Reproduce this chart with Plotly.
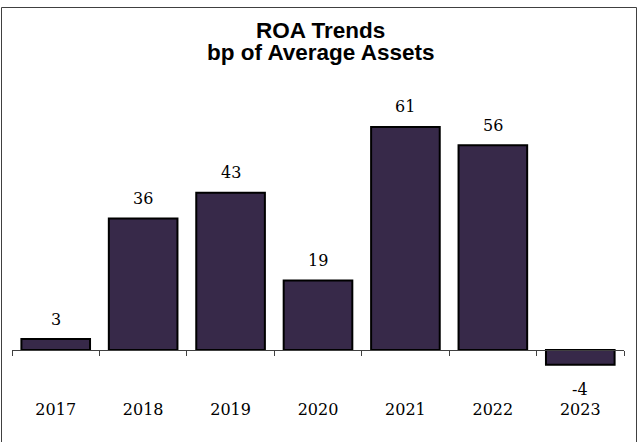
import plotly.graph_objects as go

# Return on assets, basis points of average assets
years = ["2017", "2018", "2019", "2020", "2021", "2022", "2023"]
roa_bp = [3, 36, 43, 19, 61, 56, -4]

title_line1 = "ROA Trends"
title_line2 = "bp of Average Assets"

# page size and plot-area box (pixels from the top-left corner)
W, H = 641, 442
box_left, box_right, box_top, box_bottom = 12, 624, 94, 394
y_range = [-12, 70]

# chart frame edges in page pixels; the bottom edge runs off the page
frame_left, frame_right, frame_top, frame_bottom = 1.5, 636.5, 7.5, 450

bar_fill = "#372949"
serif = "DejaVu Serif"
sans = "Liberation Sans, Arial, sans-serif"

# with zero margins, paper coordinates span the whole page
def px_x(px):
    return px / W

def px_y(py):
    return 1 - py / H

x_domain = [px_x(box_left), px_x(box_right)]
y_domain = [px_y(box_bottom), px_y(box_top)]
zero_frac = (0 - y_range[0]) / (y_range[1] - y_range[0])
zero_pos = y_domain[0] + zero_frac * (y_domain[1] - y_domain[0])
x_range = [-0.5, len(years) - 0.5]

fig = go.Figure()
fig.add_trace(go.Bar(
    x=years, y=roa_bp,
    marker=dict(color=bar_fill, line=dict(color="#000000", width=2)),
    hoverinfo="skip",
))

# invisible trace carrying the year labels on the lower axis
fig.add_trace(go.Scatter(x=years, y=[None] * len(years), xaxis="x2",
                         mode="markers", hoverinfo="skip", showlegend=False))

# frame drawn on a page-sized pixel axis pair
fig.add_trace(go.Scatter(
    x=[frame_left, frame_left, frame_right, frame_right],
    y=[frame_bottom, frame_top, frame_top, frame_bottom],
    xaxis="x3", yaxis="y3", mode="lines",
    line=dict(color="#404040", width=1),
    hoverinfo="skip", showlegend=False, cliponaxis=False,
))

# value labels above positive bars, below negative ones (x as category index)
annotations = []
for i, v in enumerate(roa_bp):
    annotations.append(dict(
        x=i, y=v, xref="x", yref="y", text=str(v), showarrow=False,
        yanchor="middle", yshift=20 if v >= 0 else -25,
        font=dict(family=serif, size=16, color="#000000"),
    ))

# two-line title
annotations.append(dict(
    x=0.5, y=px_y(30.6), xref="paper", yref="paper",
    text="<b>%s</b>" % title_line1, showarrow=False, yanchor="middle",
    font=dict(family=sans, size=22.5, color="#000000"),
))
annotations.append(dict(
    x=0.5, y=px_y(52.3), xref="paper", yref="paper",
    text="<b>%s</b>" % title_line2, showarrow=False, yanchor="middle",
    font=dict(family=sans, size=22.5, color="#000000"),
))

fig.update_layout(
    width=W, height=H,
    margin=dict(l=0, r=0, t=0, b=0, pad=0),
    paper_bgcolor="#ffffff", plot_bgcolor="rgba(0,0,0,0)",
    showlegend=False,
    bargap=0.215,
    annotations=annotations,
    xaxis=dict(
        domain=x_domain,
        type="category", categoryarray=years, categoryorder="array",
        range=x_range, anchor="free", position=zero_pos,
        showline=True, linecolor="#404040", linewidth=1,
        ticks="outside", tickson="boundaries", ticklen=5, tickcolor="#404040",
        showticklabels=False, showgrid=False, zeroline=False,
    ),
    xaxis2=dict(
        type="category", overlaying="x", side="bottom", anchor="y",
        categoryarray=years, categoryorder="array", range=x_range,
        showline=False, ticks="", showgrid=False, zeroline=False,
        ticklabelstandoff=4,
        tickfont=dict(family=serif, size=16, color="#000000"),
    ),
    yaxis=dict(domain=y_domain, range=y_range, visible=False,
               showgrid=False, zeroline=False),
    xaxis3=dict(domain=[0, 1], range=[0, W], anchor="y3", visible=False,
                showgrid=False, zeroline=False, fixedrange=True),
    yaxis3=dict(domain=[0, 1], range=[H, 0], anchor="x3", visible=False,
                showgrid=False, zeroline=False, fixedrange=True),
)

fig.write_html("out.html")
